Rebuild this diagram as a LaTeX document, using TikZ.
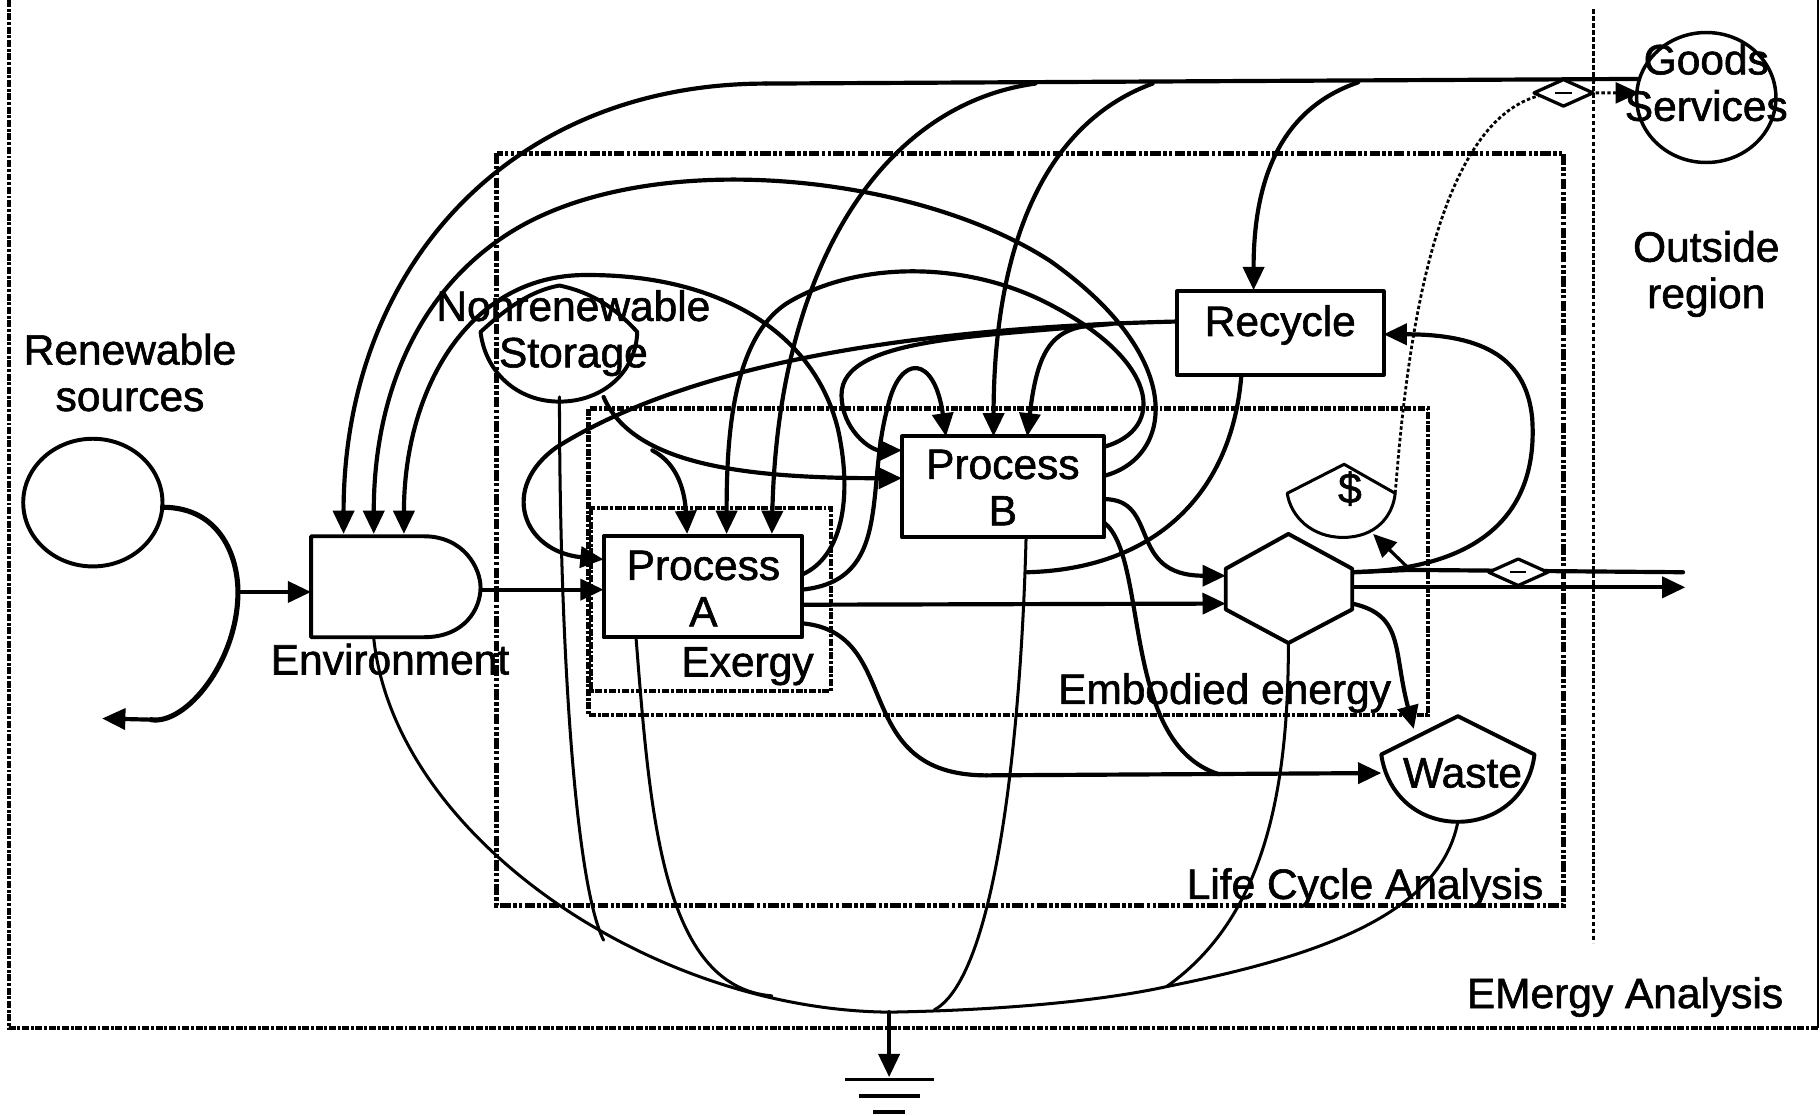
\documentclass[tikz,border=0pt]{standalone}
\usepackage{fontspec}
\setmainfont{Liberation Sans}[RawFeature={embolden=1.4}]
\usetikzlibrary{arrows.meta,shapes.geometric}
\tikzset{
  shp/.style={draw,line width=3.4pt,fill=white,line join=round},
  box/.style={shp,rectangle,inner sep=0pt,align=center,font=\labfont},
  lab/.style={inner sep=0pt,align=center,font=\labfont},
  thk/.style={line width=3.6pt,line cap=round},
  thn/.style={line width=2.6pt,line cap=round},
  dotl/.style={line width=2.4pt,dash pattern=on 3pt off 2pt},
  arr/.style={-{Triangle[length=20pt,width=18pt]}},
  dd/.style={line width=4pt,dash pattern=on 9pt off 2pt on 3pt off 2pt on 3pt off 2pt},
  dds/.style={line width=3.6pt,dash pattern=on 6pt off 1.5pt on 2.5pt off 1.5pt},
}
\newcommand{\labfont}{\fontsize{36.6}{40}\selectfont}
\begin{document}
\begin{tikzpicture}[x=1pt,y=-1pt]
\useasboundingbox (0,0) rectangle (1568,961);
\fill[white] (0,0) rectangle (1568,961);
% frames
\coordinate (em1) at (8,0); \coordinate (em2) at (8,886); \coordinate (em3) at (1566,886); \coordinate (em4) at (1566,0);
\draw[dds] (em1)--(em2)--(em3);
\draw[line width=1.8pt] (em3)--(em4);
\coordinate (ov1) at (1373,8); \coordinate (ov2) at (1373,812);
\draw[line width=2.4pt,dash pattern=on 4pt off 2pt] (ov1)--(ov2);
\draw[dd] (428,132) rectangle (1347,780);
\draw[dds] (507,352) rectangle (1230,616);
\draw[dds] (509,438) rectangle (716,595);
% ports
\foreach \n/\x/\y in {
 goodsA/1412/68, topL/660/72, e1/296/460, e2/322/460, e3/348/460, t892/892/72, t993/993/72, t1170/1170/71,
 aT1/592/460, aT2/626/460, aT3/665/460, aL1/520/482, aL2/520/508, aR1/691/495, aR2/691/508, aR3/691/521, aR4/691/537, aB/548/550,
 bT1/815/376, bT2/856/376, bT3/885/376, bL1/777/388, bL2/777/412, bR1/951/385, bR2/951/410, bR3/951/430, bR4/951/450, bB/884/463,
 rT/1080/250, rL/1014/277, rR/1192/288, rB/1070/315, jr/958/279,
 hL1/1056/496, hL2/1056/520, hR1/1165/493, hR2/1165/506, hR3/1165/520, hB/1110/554,
 wL/1190/666, wT/1218/628, wB/1256/708, envR/413/508, envB/322/550, envL/268/510,
 stB/482/342, stR/520/342, stJ/562/388, srcR/140/437, srcJ/205/510, srcEnd/88/619,
 g1/800/870, gT/766/872, gB/766/928, j1/850/668, j2/1215/491, dolT/1183/460, dolR/1202/425, end1/1450/493, end2/1452/506, goodsB/1412/80, jWaste/1005/850, jA/665/858, jS/520/810, rJ/885/493} {
 \coordinate (\n) at (\x,\y);
}
% connectors, thick
\draw[thk] (goodsA)--(topL);
\draw[thk,arr] (topL) .. controls (440,72) and (296,230) .. (e1);
\draw[thk,arr] (bR2) .. controls (1010,395) and (1025,310) .. (905,225) .. controls (790,150) and (560,125) .. (440,200) .. controls (360,250) and (322,340) .. (e2);
\draw[thk,arr] (aR1) .. controls (725,480) and (735,430) .. (722,370) .. controls (700,280) and (610,235) .. (500,237) .. controls (400,240) and (348,340) .. (e3);
\draw[thk,arr] (t892) .. controls (760,90) and (670,230) .. (aT3);
\draw[thk,arr] (t993) .. controls (890,110) and (856,230) .. (bT2);
\draw[thk,arr] (t1170) .. controls (1100,95) and (1080,160) .. (rT);
\draw[thk,arr] (bR1) .. controls (1005,370) and (1000,310) .. (900,260) .. controls (830,225) and (740,225) .. (680,260) .. controls (630,290) and (626,380) .. (aT2);
\draw[thk,arr] (stR) .. controls (545,400) and (640,412) .. (bL2);
\draw[thk,arr] (stJ) .. controls (585,400) and (590,425) .. (aT1);
\draw[thk,arr] (rL) .. controls (800,282) and (600,310) .. (480,385) .. controls (430,420) and (450,475) .. (aL1);
\draw[thk,arr] (jr) .. controls (912,280) and (895,290) .. (bT3);
\draw[thk,arr] (jr) .. controls (850,290) and (725,290) .. (725,340) .. controls (725,370) and (750,388) .. (bL1);
\draw[thk,arr] (aR2) .. controls (770,500) and (745,420) .. (765,350) .. controls (775,305) and (805,305) .. (bT1);
\draw[thk,arr] (aR3)--(hL2);
\draw[thk,arr] (bR3) .. controls (1000,430) and (970,496) .. (hL1);
\draw[thk] (bR4) .. controls (990,480) and (965,640) .. (1050,667);
\draw[thk] (aR4) .. controls (780,545) and (730,668) .. (j1);
\draw[thk,arr] (j1)--(wL);
\draw[thk,arr] (hR1) .. controls (1290,490) and (1325,430) .. (1320,360) .. controls (1315,310) and (1280,288) .. (rR);
\draw[line width=2.8pt,arr] (j2) -- (dolT);
\draw[thk] (hR1) -- (j2) -- (end1);
\draw[thk,arr] (hR2)--(end2);
\draw[thk,arr] (hR3) .. controls (1210,530) and (1200,560) .. (wT);
\draw[thk] (rB) .. controls (1065,420) and (1000,490) .. (rJ);
\draw[line width=4.4pt,line cap=round] (srcR) .. controls (190,437) and (205,480) .. (srcJ) .. controls (205,570) and (160,625) .. (130,620);
\draw[thk,arr] (130,620) -- (srcEnd);
\draw[thk,arr] (srcJ)--(envL);
\draw[thk,arr] (envR)--(aL2);
\draw[thk,arr] (gT)--(gB);
% thin
\draw[thn] (envB) .. controls (340,720) and (560,870) .. (gT);
\draw[thn] (gT) .. controls (880,870) and (960,860) .. (jWaste) .. controls (1130,825) and (1240,790) .. (wB);
\draw[thn] (hB) .. controls (1110,680) and (1090,790) .. (jWaste);
\draw[thn] (bB) .. controls (880,620) and (860,840) .. (805,870);
\draw[thn] (aB) .. controls (560,700) and (570,850) .. (jA);
\draw[thn] (stB) .. controls (482,550) and (495,760) .. (jS);
% dotted
\draw[dotl,arr] (dolR) .. controls (1210,330) and (1230,80) .. (1345,80) -- (goodsB);
% diamonds
\node[shp,diamond,aspect=2.4,minimum width=52pt,minimum height=24pt,inner sep=0pt,line width=2.8pt] (d1) at (1347,80) {};
\node[shp,diamond,aspect=2.4,minimum width=52pt,minimum height=24pt,inner sep=0pt,line width=2.8pt] (d2) at (1308,493) {};
\draw[line width=2pt] ([xshift=-7pt]d1.center)--([xshift=7pt]d1.center);
\draw[line width=2pt] ([xshift=-7pt]d2.center)--([xshift=7pt]d2.center);
% ground
\coordinate (g1a) at (728,930); \coordinate (g1b) at (805,930);
\coordinate (g2a) at (740,944); \coordinate (g2b) at (793,944);
\coordinate (g3a) at (752,958); \coordinate (g3b) at (780,958);
\draw[line width=3.4pt] (g1a)--(g1b) (g2a)--(g2b) (g3a)--(g3b);
% shapes
\node[shp,ellipse,minimum width=120pt,minimum height=110pt,inner sep=0pt,fill=none] (src) at (80,433) {};
\node[shp,ellipse,minimum width=120pt,minimum height=112pt,inner sep=0pt,line width=3pt,fill=none] (goods) at (1470,84) {};
\draw[shp] (268,462) -- (365,462) .. controls (400,462) and (414,490) .. (414,506) .. controls (414,525) and (400,549) .. (365,549) -- (268,549) -- cycle;
\draw[shp,fill=none] (414,286) .. controls (440,262) and (460,250) .. (482,246) .. controls (510,252) and (530,265) .. (549,286) .. controls (548,320) and (520,346) .. (482,346) .. controls (445,346) and (418,320) .. (414,286) -- cycle;
\draw[shp,line width=2.6pt] (1109,425) -- (1158,400) -- (1202,425) .. controls (1200,445) and (1185,463) .. (1157,463) .. controls (1130,463) and (1112,445) .. (1109,425) -- cycle;
\draw[shp] (1190,650) -- (1256,617) -- (1322,650) .. controls (1318,685) and (1290,708) .. (1256,708) .. controls (1222,708) and (1195,685) .. (1190,650) -- cycle;
\draw[shp] (1110,460) -- (1165,490) -- (1165,525) -- (1110,554) -- (1056,525) -- (1056,490) -- cycle;
% boxes
\node[box,minimum width=171pt,minimum height=87pt] (procA) at (605.5,505.5) {};
\node[box,minimum width=174pt,minimum height=87pt] (procB) at (864,419.5) {};
\node[box,minimum width=178pt,minimum height=72pt] (rec) at (1103,287) {};
% labels
\node[lab] (LprocA) at (606,507) {Process\\A};
\node[lab] (LprocB) at (864,420) {Process\\B};
\node[lab] (Lrec) at (1103,280) {Recycle};
\node[lab,anchor=center] (Lsrc) at (112,321) {Renewable\\sources};
\node[lab] (Lst) at (494,287) {Nonrenewable\\Storage};
\node[lab] (Lenv) at (336,568) {Environment};
\node[lab] (Lex) at (644,574) {Exergy};
\node[lab] (Ldol) at (1163,421) {\$};
\node[lab] (Lem) at (1055,597) {Embodied energy};
\node[lab] (Lwa) at (1260,666) {Waste};
\node[lab] (Llc) at (1176,765) {Life Cycle Analysis};
\node[lab] (Lou) at (1470,236) {Outside\\region};
\node[lab] (Lema) at (1400,859) {EMergy Analysis};
\node[lab] (Lgo) at (1470,71) {Goods\\Services};
\end{tikzpicture}
\end{document}
